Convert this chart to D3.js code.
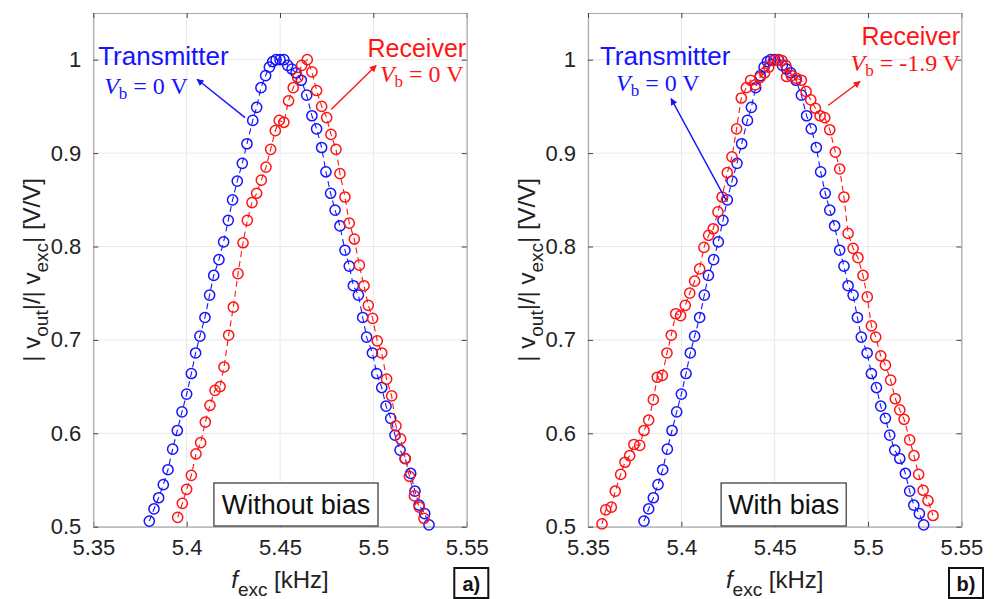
<!DOCTYPE html>
<html>
<head>
<meta charset="utf-8">
<script src="https://cdn.jsdelivr.net/npm/d3@7"></script>
<style>
  body { margin: 0; background: #fff; }
  svg text { font-family: "Liberation Sans", Arial, Helvetica, sans-serif; }
</style>
</head>
<body>
<div id="chart"></div>
<script>
"use strict";
//transmitter, Vb = 0 V (same measurement in both panels)
var txF = [5.3800, 5.3825, 5.3850, 5.3875, 5.3900, 5.3925, 5.3950, 5.3975, 5.4000, 5.4025,
  5.4048, 5.4071, 5.4098, 5.4123, 5.4145, 5.4173, 5.4198, 5.4223, 5.4246, 5.4271,
  5.4298, 5.4323, 5.4354, 5.4375, 5.4398, 5.4423, 5.4443, 5.4461, 5.4479, 5.4500,
  5.4521, 5.4541, 5.4564, 5.4586, 5.4614, 5.4643, 5.4671, 5.4696, 5.4723, 5.4746,
  5.4771, 5.4795, 5.4821, 5.4848, 5.4871, 5.4893, 5.4920, 5.4943, 5.4964, 5.4995,
  5.5018, 5.5045, 5.5068, 5.5093, 5.5116, 5.5143, 5.5170, 5.5200, 5.5223, 5.5245,
  5.5275, 5.5298];
var txV = [0.506, 0.519, 0.531, 0.545, 0.561, 0.583, 0.603, 0.623, 0.642, 0.664,
  0.686, 0.704, 0.724, 0.748, 0.769, 0.786, 0.805, 0.828, 0.850, 0.870,
  0.889, 0.910, 0.935, 0.949, 0.970, 0.983, 0.992, 0.998, 1.000, 1.000,
  1.000, 0.994, 0.990, 0.986, 0.978, 0.962, 0.940, 0.926, 0.906, 0.880,
  0.857, 0.839, 0.822, 0.796, 0.779, 0.758, 0.748, 0.724, 0.703, 0.686,
  0.664, 0.649, 0.629, 0.616, 0.598, 0.582, 0.573, 0.557, 0.538, 0.523,
  0.514, 0.502];

//receiver, Vb = 0 V
var rxF = [5.3952, 5.3977, 5.4000, 5.4025, 5.4050, 5.4075, 5.4100, 5.4125, 5.4152, 5.4179,
  5.4200, 5.4225, 5.4250, 5.4275, 5.4302, 5.4325, 5.4350, 5.4375, 5.4400, 5.4425,
  5.4450, 5.4475, 5.4496, 5.4521, 5.4546, 5.4571, 5.4595, 5.4616, 5.4646, 5.4671,
  5.4696, 5.4723, 5.4750, 5.4773, 5.4800, 5.4821, 5.4848, 5.4871, 5.4898, 5.4925,
  5.4950, 5.4973, 5.4996, 5.5021, 5.5045, 5.5071, 5.5098, 5.5121, 5.5146, 5.5171,
  5.5193, 5.5220, 5.5246, 5.5271];
var rxV = [0.510, 0.525, 0.540, 0.555, 0.578, 0.590, 0.612, 0.630, 0.646, 0.650,
  0.671, 0.705, 0.735, 0.771, 0.804, 0.828, 0.847, 0.857, 0.871, 0.885,
  0.904, 0.924, 0.935, 0.933, 0.956, 0.970, 0.981, 0.994, 1.000, 0.987,
  0.967, 0.950, 0.938, 0.920, 0.904, 0.878, 0.853, 0.825, 0.808, 0.780,
  0.758, 0.737, 0.723, 0.699, 0.686, 0.658, 0.640, 0.608, 0.594, 0.573,
  0.554, 0.533, 0.521, 0.509];

//receiver, Vb = -1.9 V
var rxBiasF = [5.3575, 5.3595, 5.3625, 5.3646, 5.3675, 5.3698, 5.3723, 5.3746, 5.3777, 5.3800,
  5.3825, 5.3850, 5.3871, 5.3898, 5.3923, 5.3946, 5.3970, 5.3996, 5.4021, 5.4045,
  5.4071, 5.4098, 5.4121, 5.4146, 5.4171, 5.4196, 5.4218, 5.4246, 5.4271, 5.4296,
  5.4321, 5.4348, 5.4371, 5.4396, 5.4421, 5.4446, 5.4468, 5.4493, 5.4518, 5.4539,
  5.4559, 5.4564, 5.4589, 5.4616, 5.4643, 5.4668, 5.4693, 5.4718, 5.4743, 5.4768,
  5.4795, 5.4825, 5.4848, 5.4871, 5.4893, 5.4920, 5.4946, 5.4973, 5.4996, 5.5018,
  5.5041, 5.5068, 5.5093, 5.5121, 5.5146, 5.5170, 5.5193, 5.5223, 5.5246, 5.5271,
  5.5295, 5.5321, 5.5348];
var rxBiasV = [0.503, 0.518, 0.521, 0.538, 0.556, 0.569, 0.576, 0.588, 0.587, 0.603,
  0.614, 0.636, 0.660, 0.662, 0.686, 0.705, 0.728, 0.726, 0.737, 0.750,
  0.763, 0.776, 0.799, 0.812, 0.819, 0.837, 0.853, 0.879, 0.896, 0.926,
  0.959, 0.970, 0.978, 0.973, 0.981, 0.986, 0.992, 0.999, 1.000, 0.999,
  0.994, 0.982, 0.983, 0.980, 0.978, 0.966, 0.957, 0.948, 0.940, 0.938,
  0.925, 0.901, 0.883, 0.853, 0.814, 0.798, 0.788, 0.769, 0.746, 0.715,
  0.703, 0.683, 0.673, 0.657, 0.637, 0.625, 0.615, 0.593, 0.576, 0.556,
  0.539, 0.528, 0.512];

var xTicks = [5.35, 5.4, 5.45, 5.5, 5.55];
var yTicks = [0.5, 0.6, 0.7, 0.8, 0.9, 1];

var blue = "#1414ff",
  red = "#ff1414";

var w = 998,
  h = 599;

var svg = d3
  .select("#chart")
  .append("svg")
  .attr("width", w)
  .attr("height", h);

var defs = svg.append("defs");
[["arrow-blue", blue], ["arrow-red", red]].forEach(function(a) {
  defs
    .append("marker")
    .attr("id", a[0])
    .attr("viewBox", "0 0 10 10")
    .attr("refX", 9)
    .attr("refY", 5)
    .attr("markerWidth", 8)
    .attr("markerHeight", 7)
    .attr("markerUnits", "userSpaceOnUse")
    .attr("orient", "auto")
    .append("path")
    .attr("d", "M0,0L10,5L0,10z")
    .attr("fill", a[1]);
});

function zip(fs, vs) {
  return fs.map(function(f, i) {
    return { f: f, v: vs[i] };
  });
}

//panel: left pixel edge, series, annotations
var panels = [
  {
    left: 93.3,
    tag: "a)",
    box: { text: "Without bias", f0: 5.4146, f1: 5.5025 },
    series: [
      { data: zip(txF, txV), color: blue },
      { data: zip(rxF, rxV), color: red }
    ],
    notes: [
      { color: blue, title: "Transmitter", vb: "0", tf: 5.3526, tv: 0.994, anchor: "start", vf: 5.3558, vv: 0.9628,
        a0: [5.4313, 0.938], a1: [5.4056, 0.979] },
      { color: red, title: "Receiver", vb: "0", tf: 5.5497, tv: 1.0025, anchor: "end", vf: 5.5483, vv: 0.9756,
        a0: [5.4774, 0.9467], a1: [5.5015, 0.9939] }
    ]
  },
  {
    left: 588,
    tag: "b)",
    box: { text: "With bias", f0: 5.4213, f1: 5.4883 },
    series: [
      { data: zip(txF, txV), color: blue },
      { data: zip(rxBiasF, rxBiasV), color: red }
    ],
    notes: [
      { color: blue, title: "Transmitter", vb: "0", tf: 5.3564, tv: 0.994, anchor: "start", vf: 5.365, vv: 0.966,
        a0: [5.4239, 0.85], a1: [5.3945, 0.9584] },
      { color: red, title: "Receiver", vb: "-1.9", tf: 5.5493, tv: 1.0153, anchor: "end", vf: 5.5493, vv: 0.9874,
        a0: [5.4786, 0.951], a1: [5.4957, 0.9767] }
    ]
  }
];

panels.forEach(drawPanel);

function drawPanel(p) {
  var x = d3.scaleLinear().domain([5.35, 5.55]).range([p.left, p.left + 373.4]);
  var y = d3.scaleLinear().domain([0.5, 1.05]).range([526.7, 13]);
  var g = svg.append("g");

  //grid
  g.append("g")
    .selectAll("line")
    .data(xTicks)
    .join("line")
    .attr("x1", x).attr("x2", x)
    .attr("y1", y(0.5)).attr("y2", y(1.05))
    .attr("stroke", "#e8e8e8");
  g.append("g")
    .selectAll("line")
    .data(yTicks)
    .join("line")
    .attr("x1", x(5.35)).attr("x2", x(5.55))
    .attr("y1", y).attr("y2", y)
    .attr("stroke", "#e8e8e8");

  //axes, ticks inside like matlab
  var ax = d3.axisBottom(x).tickValues(xTicks).tickSizeInner(-5).tickSizeOuter(0).tickPadding(13)
    .tickFormat(d3.format("~g"));
  var ay = d3.axisLeft(y).tickValues(yTicks).tickSizeInner(-5).tickSizeOuter(0).tickPadding(12)
    .tickFormat(d3.format("~g"));
  var axT = d3.axisTop(x).tickValues(xTicks).tickSizeInner(-5).tickSizeOuter(0).tickFormat("");
  var ayR = d3.axisRight(y).tickValues(yTicks).tickSizeInner(-5).tickSizeOuter(0).tickFormat("");

  [
    [ax, "translate(0," + y(0.5) + ")"],
    [ay, "translate(" + x(5.35) + ",0)"],
    [axT, "translate(0," + y(1.05) + ")"],
    [ayR, "translate(" + x(5.55) + ",0)"]
  ].forEach(function(a) {
    var s = g.append("g").attr("transform", a[1]).call(a[0]);
    s.select(".domain").attr("stroke", "#aaaaaa").attr("stroke-width", 1.2);
    s.selectAll(".tick line").attr("stroke", "#444");
    s.selectAll(".tick text")
      .attr("fill", "#222")
      .style("font-size", "22px");
  });

  //series: dashed line with open circles
  var line = d3.line()
    .x(function(d) { return x(d.f); })
    .y(function(d) { return y(d.v); });

  p.series.forEach(function(s) {
    g.append("path")
      .datum(s.data)
      .attr("d", line)
      .attr("fill", "none")
      .attr("stroke", s.color)
      .attr("stroke-width", 1.1)
      .attr("stroke-dasharray", "6,4");
    g.append("g")
      .selectAll("circle")
      .data(s.data)
      .join("circle")
      .attr("cx", function(d) { return x(d.f); })
      .attr("cy", function(d) { return y(d.v); })
      .attr("r", 5.1)
      .attr("fill", "none")
      .attr("stroke", s.color)
      .attr("stroke-width", 1.5);
  });

  //annotations
  p.notes.forEach(function(n) {
    g.append("text")
      .attr("x", x(n.tf))
      .attr("y", y(n.tv))
      .attr("text-anchor", n.anchor)
      .attr("fill", n.color)
      .style("font-size", n.anchor === "start" ? "26px" : "25px")
      .text(n.title);
    var t = g.append("text")
      .attr("x", x(n.vf))
      .attr("y", y(n.vv))
      .attr("text-anchor", n.anchor)
      .attr("fill", n.color)
      .style("font-family", "'Liberation Serif', 'Times New Roman', serif")
      .style("font-size", "24px");
    t.append("tspan").style("font-style", "italic").text("V");
    t.append("tspan").attr("dy", 5).style("font-size", "17px").text("b");
    t.append("tspan").attr("dy", -5).text(" = " + n.vb + " V");
    g.append("line")
      .attr("x1", x(n.a0[0])).attr("y1", y(n.a0[1]))
      .attr("x2", x(n.a1[0])).attr("y2", y(n.a1[1]))
      .attr("stroke", n.color)
      .attr("stroke-width", 1.4)
      .attr("marker-end", "url(#" + (n.color === blue ? "arrow-blue" : "arrow-red") + ")");
  });

  //"with / without bias" box
  var bx0 = x(p.box.f0), bx1 = x(p.box.f1);
  g.append("rect")
    .attr("x", bx0).attr("y", 483)
    .attr("width", bx1 - bx0).attr("height", 43)
    .attr("fill", "#fff")
    .attr("stroke", "#333")
    .attr("stroke-width", 1.2);
  g.append("text")
    .attr("x", (bx0 + bx1) / 2)
    .attr("y", 514)
    .attr("text-anchor", "middle")
    .attr("fill", "#111")
    .style("font-size", "27px")
    .text(p.box.text);

  //x label
  var xl = g.append("text")
    .attr("x", x(5.45))
    .attr("y", 588)
    .attr("text-anchor", "middle")
    .attr("fill", "#222")
    .style("font-size", "24px");
  xl.append("tspan").style("font-style", "italic").text("f");
  xl.append("tspan").attr("dy", 8).style("font-size", "19px").text("exc");
  xl.append("tspan").attr("dy", -8).text(" [kHz]");

  //y label
  var yl = g.append("text")
    .attr("transform", "translate(" + (p.left - 53) + "," + y(0.775) + ") rotate(-90)")
    .attr("text-anchor", "middle")
    .attr("fill", "#222")
    .style("font-size", "24px");
  yl.append("tspan").text("| v");
  yl.append("tspan").attr("dy", 8).style("font-size", "19px").text("out");
  yl.append("tspan").attr("dy", -8).text("|/| v");
  yl.append("tspan").attr("dy", 8).style("font-size", "19px").text("exc");
  yl.append("tspan").attr("dy", -8).text("| [V/V]");

  //panel tag
  var tx = p.left + 361;
  g.append("rect")
    .attr("x", tx).attr("y", 568)
    .attr("width", 34).attr("height", 30)
    .attr("fill", "#fff")
    .attr("stroke", "#111")
    .attr("stroke-width", 2);
  g.append("text")
    .attr("x", tx + 17)
    .attr("y", 591)
    .attr("text-anchor", "middle")
    .attr("fill", "#111")
    .style("font-size", "20px")
    .style("font-weight", "bold")
    .text(p.tag);
}
</script>
</body>
</html>
